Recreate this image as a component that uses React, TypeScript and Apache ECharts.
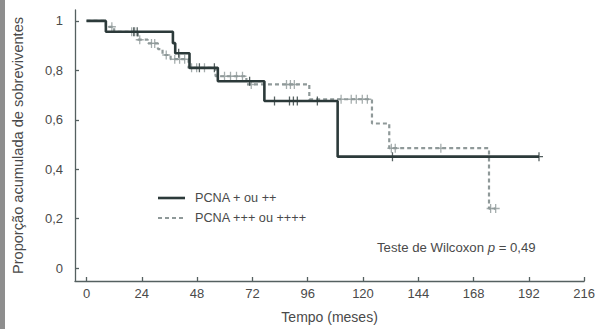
import React, { useEffect, useRef } from "react";
import * as echarts from "echarts";

const xTickValues = [0, 24, 48, 72, 96, 120, 144, 168, 192, 216];
const yTickValues = [0, 0.2, 0.4, 0.6, 0.8, 1];

const seriesNames = ["PCNA + ou ++", "PCNA +++ ou ++++"];

const group1Times = [0, 8.4, 37.5, 38.5, 44.7, 57, 77.2, 109, 196.4];
const group1Surv = [1, 0.956, 0.91, 0.869, 0.81, 0.756, 0.676, 0.451, 0.451];
const group1Censored = [20.5, 22, 40, 49, 55.5, 70.8, 81.6, 88.1, 89.8, 91.5, 100.2, 132.8, 196.4];

const group2Times = [0, 8.4, 12, 22.3, 26.6, 31, 33, 36.5, 44.3, 56, 69.4, 96.7, 123.9, 131.4, 174.7, 177.6];
const group2Surv = [1, 0.976, 0.956, 0.924, 0.909, 0.886, 0.862, 0.845, 0.81, 0.776, 0.743, 0.683, 0.585, 0.485, 0.241, 0.241];
const group2Censored = [11, 19.6, 20.9, 23.1, 28.2, 29.6, 34.6, 38.3, 40.4, 42.6, 45.6, 47.8, 51.2, 59.9, 62.5, 65.1, 67.7, 71.5, 86.8, 88.5, 90.2, 110.5, 114.9, 117.1, 119.7, 121.9, 132.3, 134, 153.8, 175.4, 177.6];

const annotationText = "Teste de Wilcoxon ";

function survivalAt(times: number[], surv: number[], t: number) {
  let v = surv[0];
  for (let i = 0; i < times.length; i++) {
    if (times[i] <= t) v = surv[i];
  }
  return v;
}

const PLUS = "path://M4.2,0h1.6v4.2h4.2v1.6h-4.2v4.2h-1.6v-4.2h-4.2v-1.6h4.2z";

const SOLID = "#2c3a3a";
const DASH = "#8f9999";
const AXIS = "#556060";
const TEXT = "#4a4a4a";
const FONT = "'Liberation Sans', Arial, sans-serif";

export default function App() {
  const ref = useRef<HTMLDivElement>(null);
  useEffect(() => {
    if (!ref.current) return;
    const chart = echarts.init(ref.current, undefined, { renderer: "svg" });
    const g1 = group1Times.map((t, i) => [t, group1Surv[i]]);
    const g2 = group2Times.map((t, i) => [t, group2Surv[i]]);
    const c1 = group1Censored.map((t) => [t, survivalAt(group1Times, group1Surv, t)]);
    const c2 = group2Censored.map((t) => [t, survivalAt(group2Times, group2Surv, t)]);
    chart.setOption({
      animation: false,
      backgroundColor: "#ffffff",
      textStyle: { fontFamily: FONT },
      grid: { left: 75, right: 13, top: 10, bottom: 46.5 },
      xAxis: {
        type: "value",
        min: -5,
        max: 216,
        name: "Tempo (meses)",
        nameLocation: "middle",
        nameGap: 29,
        nameTextStyle: { color: TEXT, fontSize: 14, fontFamily: FONT },
        axisLine: { show: true, onZero: false, lineStyle: { color: AXIS, width: 1.3 } },
        axisTick: { show: true, inside: true, length: 4, customValues: xTickValues, lineStyle: { color: AXIS, width: 1.3 } },
        axisLabel: { customValues: xTickValues, color: TEXT, fontSize: 13, margin: 6, fontFamily: FONT },
        splitLine: { show: false },
      },
      yAxis: {
        type: "value",
        min: -0.052,
        max: 1.044,
        name: "Proporção acumulada de sobreviventes",
        nameLocation: "middle",
        nameGap: 50,
        nameTextStyle: { color: TEXT, fontSize: 14.6, fontFamily: FONT },
        axisLine: { show: true, onZero: false, lineStyle: { color: AXIS, width: 1.3 } },
        axisTick: { show: true, inside: true, length: 4, customValues: yTickValues, lineStyle: { color: AXIS, width: 1.3 } },
        axisLabel: {
          customValues: yTickValues,
          color: TEXT,
          fontSize: 13,
          margin: 12,
          fontFamily: FONT,
          formatter: (v: number) => String(Math.round(v * 10) / 10).replace(".", ","),
        },
        splitLine: { show: false },
      },
      series: [
        {
          name: seriesNames[1],
          type: "line",
          step: "end",
          data: g2,
          symbol: "none",
          lineStyle: { color: DASH, width: 2.2, type: [4, 3] },
          z: 2,
        },
        {
          name: seriesNames[1] + " censurados",
          type: "scatter",
          data: c2,
          symbol: PLUS,
          symbolSize: [8, 9],
          itemStyle: { color: DASH },
          z: 3,
        },
        {
          name: seriesNames[0],
          type: "line",
          step: "end",
          data: g1,
          symbol: "none",
          lineStyle: { color: SOLID, width: 2.6 },
          z: 4,
        },
        {
          name: seriesNames[0] + " censurados",
          type: "scatter",
          data: c1,
          symbol: PLUS,
          symbolSize: [8, 9],
          itemStyle: { color: SOLID },
          z: 5,
        },
      ],
      graphic: [
        { type: "rect", left: 0, top: 0, shape: { width: 5, height: 329 }, style: { fill: "#8e8e8e" } },
        { type: "line", shape: { x1: 158, y1: 198, x2: 185, y2: 198 }, style: { stroke: SOLID, lineWidth: 2.6 } },
        { type: "line", shape: { x1: 158, y1: 218, x2: 185, y2: 218 }, style: { stroke: DASH, lineWidth: 2.2, lineDash: [4, 3] } },
        { type: "text", x: 195, y: 198, style: { text: seriesNames[0], fill: TEXT, font: `12.7px ${FONT}`, verticalAlign: "middle" } },
        { type: "text", x: 195, y: 218, style: { text: seriesNames[1], fill: TEXT, font: `12.7px ${FONT}`, verticalAlign: "middle" } },
        {
          type: "text",
          x: 377,
          y: 247,
          style: {
            text: `{a|${annotationText}}{p|p}{a| = 0,49}`,
            verticalAlign: "middle",
            rich: {
              a: { fill: TEXT, fontSize: 13.2, fontFamily: FONT },
              p: { fill: TEXT, fontSize: 13.2, fontFamily: FONT, fontStyle: "italic" },
            },
          },
        },
      ],
    });
    return () => chart.dispose();
  }, []);
  return <div ref={ref} style={{ position: "fixed", left: 0, top: 0, width: 598, height: 329 }} />;
}
